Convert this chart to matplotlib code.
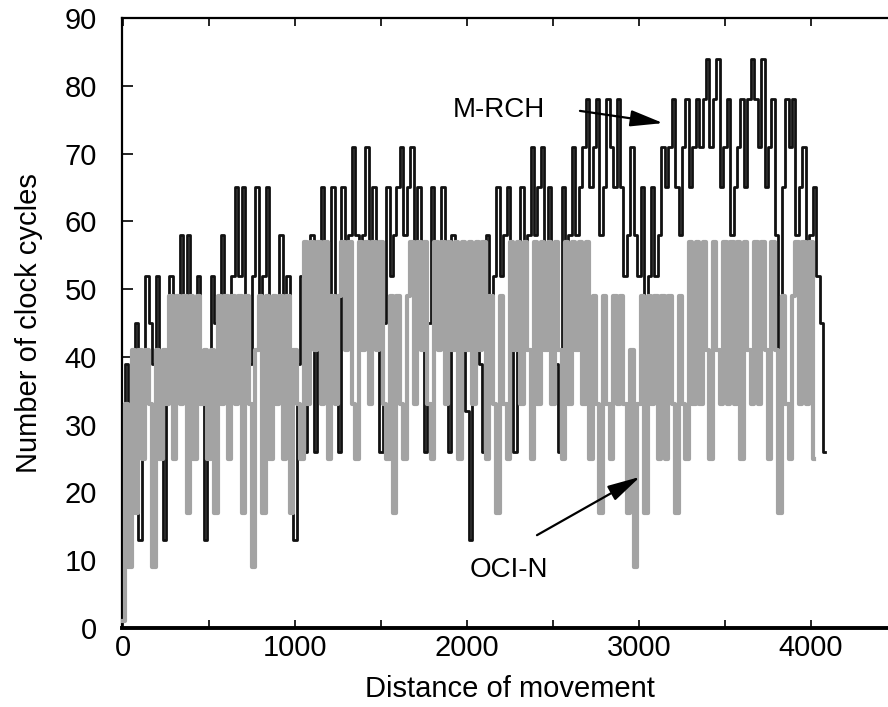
import numpy as np
import matplotlib
matplotlib.use("Agg")
import matplotlib.pyplot as plt

plt.rcParams['font.family'] = ['Liberation Sans', 'DejaVu Sans']

# sample spacing along the distance axis
step = 20

# M-RCH (black), one value every `step` units of distance
m_rch = [6, 39, 13, 39, 45, 13, 39, 52, 45, 39,
         52, 39, 13, 39, 52, 45, 39, 58, 45, 58,
         45, 26, 52, 39, 13, 39, 52, 45, 39, 58,
         45, 39, 52, 65, 52, 65, 45, 39, 52, 65,
         45, 52, 65, 45, 39, 45, 58, 45, 52, 39,
         13, 39, 52, 26, 39, 58, 26, 45, 65, 52,
         45, 65, 45, 26, 65, 52, 58, 71, 58, 52,
         58, 71, 52, 65, 45, 26, 45, 65, 52, 58,
         65, 71, 58, 65, 71, 52, 65, 45, 26, 45,
         65, 52, 45, 65, 45, 26, 58, 45, 39, 45,
         32, 13, 39, 45, 39, 26, 58, 45, 52, 65,
         52, 58, 65, 45, 26, 45, 65, 52, 58, 71,
         58, 65, 71, 52, 65, 45, 39, 26, 65, 52,
         58, 71, 58, 65, 71, 78, 65, 71, 78, 58,
         65, 78, 71, 65, 78, 65, 52, 58, 71, 58,
         52, 65, 35, 52, 65, 52, 58, 71, 65, 71,
         78, 65, 58, 71, 78, 65, 71, 78, 71, 78,
         84, 71, 78, 84, 65, 71, 78, 58, 65, 71,
         78, 65, 78, 84, 78, 71, 84, 65, 71, 78,
         58, 39, 65, 78, 71, 78, 58, 65, 71, 52,
         58, 65, 52, 45, 26]

# OCI-N (grey)
oci_n = [1, 33, 9, 41, 17, 41, 25, 41, 33, 9,
         41, 25, 41, 33, 49, 25, 49, 33, 49, 17,
         49, 25, 49, 33, 41, 25, 41, 17, 49, 33,
         49, 25, 49, 33, 49, 17, 49, 33, 9, 41,
         49, 17, 49, 25, 49, 33, 49, 25, 49, 17,
         41, 33, 25, 57, 33, 57, 41, 57, 33, 57,
         25, 49, 33, 49, 57, 41, 57, 33, 25, 57,
         41, 57, 33, 57, 41, 57, 33, 25, 49, 17,
         49, 33, 25, 49, 57, 33, 57, 41, 57, 33,
         25, 57, 41, 57, 33, 57, 41, 57, 25, 57,
         41, 57, 33, 57, 41, 57, 25, 49, 33, 17,
         49, 33, 25, 57, 41, 57, 33, 57, 41, 25,
         57, 33, 57, 41, 57, 33, 57, 41, 25, 57,
         33, 57, 41, 57, 33, 57, 25, 49, 33, 17,
         49, 33, 25, 49, 33, 49, 33, 17, 41, 9,
         33, 49, 17, 49, 33, 49, 25, 49, 25, 49,
         33, 17, 49, 33, 25, 57, 33, 57, 33, 57,
         41, 25, 57, 41, 33, 57, 33, 57, 33, 57,
         25, 57, 41, 33, 57, 33, 57, 41, 25, 57,
         41, 17, 49, 33, 25, 49, 57, 33, 57, 33,
         57, 25]

x_ticks = [0, 1000, 2000, 3000, 4000]
y_ticks = [0, 10, 20, 30, 40, 50, 60, 70, 80, 90]

x_m = np.arange(len(m_rch)) * step
x_o = np.arange(len(oci_n)) * step

fig = plt.figure(figsize=(8.88, 7.07), dpi=100)
ax = fig.add_axes([0.1375, 0.1117, 0.8726, 0.8628])

ax.plot(x_m, m_rch, color='#111111', lw=2.0, drawstyle='steps-mid', zorder=2)
ax.plot(x_o, oci_n, color='#a3a3a3', lw=3.0, drawstyle='steps-mid', zorder=3,
        clip_on=False)

ax.set_xlim(-5, 4500)
ax.set_ylim(0, 90)

major = np.arange(0, 4501, 500)
ax.set_xticks(major)
ax.set_xticklabels([str(t) if t in x_ticks else '' for t in major])
ax.set_yticks(y_ticks)

ax.tick_params(axis='x', direction='in', length=6, width=1.2, top=True,
               labelsize=21, pad=4)
ax.tick_params(axis='y', direction='in', length=8, width=1.2,
               labelsize=21, pad=18)

for s in ['left', 'top']:
    ax.spines[s].set_linewidth(1.6)
ax.spines['bottom'].set_linewidth(2.8)
ax.spines['right'].set_visible(False)

ax.set_xlabel('Distance of movement', fontsize=21, labelpad=10)
ax.set_ylabel('Number of clock cycles', fontsize=21, labelpad=16)

arrow = dict(arrowstyle='-|>,head_length=2.0,head_width=0.5',
             mutation_scale=10, lw=1.6, color='black',
             shrinkA=0, shrinkB=0)
ax.text(2186, 76.4, 'M-RCH', fontsize=20, ha='center', va='center', zorder=5)
ax.annotate('', xy=(3140, 74.5), xytext=(2657, 76.3), arrowprops=arrow, zorder=5)
ax.text(2244, 8.6, 'OCI-N', fontsize=20, ha='center', va='center', zorder=5)
ax.annotate('', xy=(3006, 22.3), xytext=(2407, 13.7), arrowprops=arrow, zorder=5)

fig.savefig('out.png', dpi=100)
